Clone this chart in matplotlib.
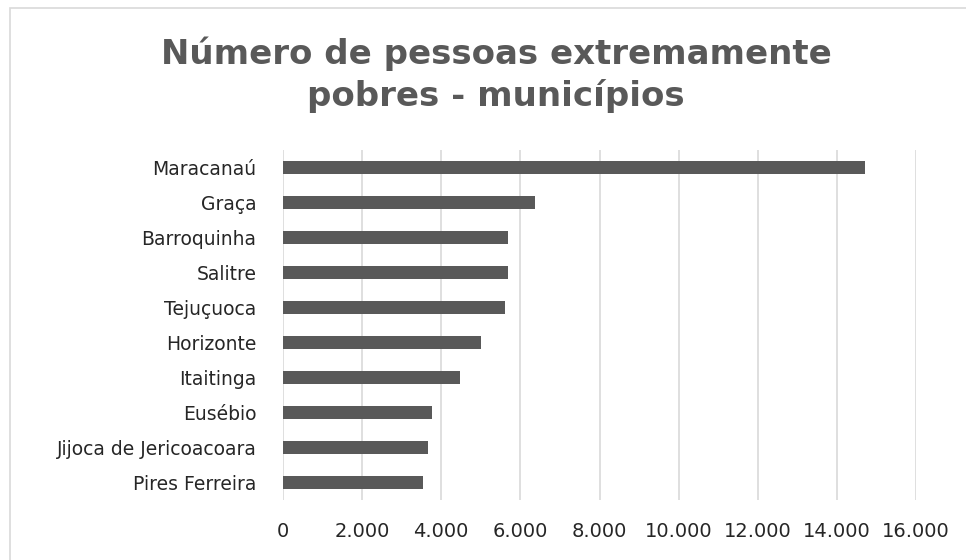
import matplotlib.pyplot as plt
from matplotlib.patches import Rectangle
from matplotlib.ticker import FuncFormatter

municipios = ['Maracanaú', 'Graça', 'Barroquinha', 'Salitre', 'Tejuçuoca',
              'Horizonte', 'Itaitinga', 'Eusébio', 'Jijoca de Jericoacoara',
              'Pires Ferreira']
pessoas = [14720, 6380, 5685, 5680, 5610, 5010, 4475, 3770, 3670, 3530]
xticks = [0, 2000, 4000, 6000, 8000, 10000, 12000, 14000, 16000]
titulo = ['Número de pessoas extremamente', 'pobres - municípios']

W, H = 966, 560
fig = plt.figure(figsize=(W / 100, H / 100), dpi=100)
ax = fig.add_axes([283 / W, 1 - 500 / H, (916 - 283) / W, 350 / H])

# moldura do gráfico
fig.patches.append(Rectangle((10 / W, -0.01), 1.0, 1 - 8 / H + 0.01,
                             transform=fig.transFigure, fill=False,
                             edgecolor='#d9d9d9', linewidth=1.2))

y = list(range(len(municipios)))
ax.barh(y, pessoas, height=0.38, color='#595959', zorder=3)
ax.set_ylim(len(municipios) - 0.5, -0.5)
ax.set_yticks(y)
ax.set_yticklabels(municipios)
ax.set_xlim(0, 16000)
ax.set_xticks(xticks)
ax.xaxis.set_major_formatter(FuncFormatter(lambda v, p: f'{int(v):,}'.replace(',', '.')))

ax.grid(axis='x', color='#d9d9d9', linewidth=1.2, zorder=0)
for s in ax.spines.values():
    s.set_visible(False)
ax.tick_params(length=0, labelcolor='#262626')
ax.tick_params(axis='x', pad=16, labelsize=14)
ax.tick_params(axis='y', pad=19, labelsize=13.5)

fig.text(496 / W, 1 - 64 / H, titulo[0], ha='center', va='baseline',
         fontsize=24.5, fontweight='bold', color='#595959')
fig.text(496 / W, 1 - 106 / H, titulo[1], ha='center', va='baseline',
         fontsize=24.5, fontweight='bold', color='#595959')

fig.savefig('out.png', dpi=100)
